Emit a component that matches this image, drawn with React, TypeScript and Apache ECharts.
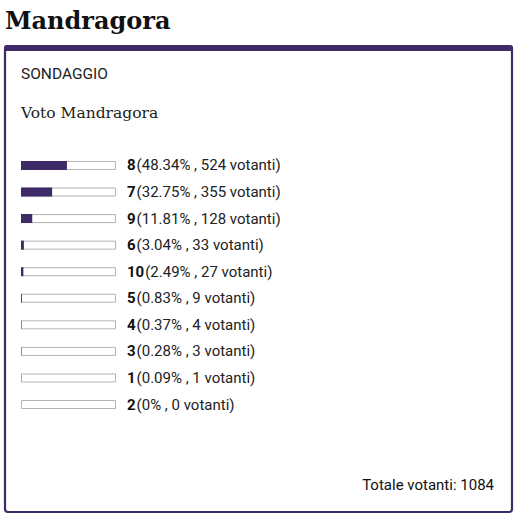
import React, { useEffect, useRef } from "react";
import * as echarts from "echarts";

const categories = ["8", "7", "9", "6", "10", "5", "4", "3", "1", "2"];
const percents = [48.34, 32.75, 11.81, 3.04, 2.49, 0.83, 0.37, 0.28, 0.09, 0];
const votes = [524, 355, 128, 33, 27, 9, 4, 3, 1, 0];
const totalVotes = 1084;
const pageTitle = "Mandragora";
const kicker = "SONDAGGIO";
const pollTitle = "Voto Mandragora";

const PURPLE = "#3f2a68";

export default function App() {
  const ref = useRef<HTMLDivElement>(null);
  useEffect(() => {
    if (!ref.current) return;
    const chart = echarts.init(ref.current, null, { renderer: "svg" });
    chart.setOption({
      animation: false,
      backgroundColor: "#ffffff",
      grid: { left: 21, width: 95, top: 152.2, height: 265.6 },
      xAxis: { type: "value", min: 0, max: 100, show: false },
      yAxis: { type: "category", data: categories, inverse: true, show: false },
      graphic: [
        {
          type: "text",
          left: 5,
          top: 8,
          style: {
            text: pageTitle,
            font: "bold 24px 'DejaVu Serif'",
            fill: "#111111",
          },
        },
        {
          type: "rect",
          shape: { x: 5, y: 46, width: 507, height: 466, r: 3 },
          style: { fill: "#ffffff", stroke: PURPLE, lineWidth: 2.2 },
          z: -1,
        },
        {
          type: "rect",
          shape: { x: 4, y: 45, width: 509, height: 6, r: [3, 3, 0, 0] },
          style: { fill: PURPLE },
          z: 0,
        },
        {
          type: "text",
          left: 21,
          top: 66,
          style: {
            text: kicker,
            font: "15.5px Roboto",
            fill: "#222222",
          },
        },
        {
          type: "text",
          left: 21,
          top: 105,
          style: {
            text: pollTitle,
            font: "15.5px 'DejaVu Serif'",
            fill: "#222222",
          },
        },
        {
          type: "text",
          right: 34,
          top: 477,
          style: {
            text: "Totale votanti: " + totalVotes,
            font: "15px Roboto",
            fill: "#111111",
          },
        },
      ],
      series: [
        {
          type: "bar",
          data: categories.map(() => 100),
          barWidth: 9,
          barGap: "-100%",
          itemStyle: { color: "#ffffff", borderColor: "#b3b3b3", borderWidth: 1 },
          z: 1,
          silent: true,
          label: {
            show: true,
            position: "right",
            distance: 11,
            formatter: (p: any) =>
              "{a|" + categories[p.dataIndex] + "}{b|(" + percents[p.dataIndex] + "% , " + votes[p.dataIndex] + " votanti)}",
            rich: {
              a: { fontFamily: "Roboto", fontWeight: "bold", fontSize: 15, color: "#111111", padding: [0, 1, 0, 0] },
              b: { fontFamily: "Roboto", fontSize: 15, color: "#222222" },
            },
          },
        },
        {
          type: "bar",
          data: percents,
          barWidth: 9,
          barGap: "-100%",
          itemStyle: { color: PURPLE },
          z: 2,
          silent: true,
        },
      ],
    });
    return () => chart.dispose();
  }, []);
  return (
    <div
      ref={ref}
      style={{ position: "absolute", left: 0, top: 0, width: 528, height: 521 }}
    />
  );
}
